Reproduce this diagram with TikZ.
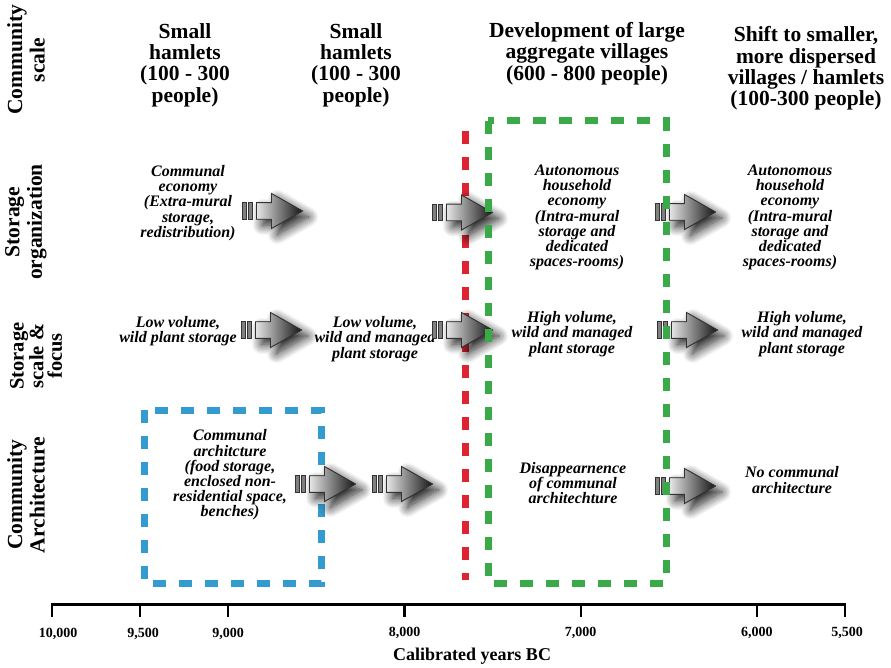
\documentclass[tikz,border=0pt]{standalone}
\usepackage{fontspec}
\setmainfont{Liberation Serif}
\usetikzlibrary{shadows.blur}

\definecolor{boxblue}{RGB}{52,155,208}
\definecolor{boxgreen}{RGB}{58,170,72}
\definecolor{boxred}{RGB}{222,36,48}

\tikzset{
  header/.style={font=\bfseries\fontsize{21.5}{21.3}\selectfont, align=center, inner sep=0pt},
  rowlabel/.style={font=\bfseries\fontsize{21.5}{22.5}\selectfont, align=center, rotate=90, inner sep=0pt},
  note/.style={font=\bfseries\itshape\fontsize{16}{15.2}\selectfont, align=center, inner sep=0pt},
  ticklabel/.style={font=\bfseries\fontsize{14}{14}\selectfont, inner sep=0pt},
  axistitle/.style={font=\bfseries\fontsize{18}{18}\selectfont, inner sep=0pt},
  period/.style={line width=7pt, dash pattern=on 13pt off 13pt},
  arrowedge/.style={draw=black!80, line width=0.9pt, line join=miter},
  flowarrow/.pic={
    \filldraw[arrowedge, left color=black!10, right color=black!92,
      blur shadow={shadow xshift=6pt, shadow yshift=-6pt,
                   shadow blur radius=10pt, shadow blur steps=16,
                   shadow opacity=90}]
      (14.5,-8.3) -- (29.5,-8.3) -- (29.5,-17.5) -- (60.5,0)
      -- (29.5,17.5) -- (29.5,8.3) -- (14.5,8.3) -- cycle;
    \filldraw[arrowedge, fill=black!50] (0,-8.3) rectangle (4.5,8.3);
    \filldraw[arrowedge, fill=black!50] (6,-8.3) rectangle (10.5,8.3);
  }
}

\begin{document}
\begin{tikzpicture}[x=1pt, y=-1pt]
\useasboundingbox (0,0) rectangle (891,668);

% row titles
\node[rowlabel] (rScale)   at (26,60)  {Community\\scale};
\node[rowlabel] (rOrg)     at (26,222) {Storage\\organization};
\node[rowlabel, font=\bfseries\fontsize{20.5}{18.5}\selectfont] (rFocus) at (36,356) {Storage\\scale \&\\focus};
\node[rowlabel] (rArch)    at (26,495) {Community\\Architecture};

% column headers
\node[header] (hA) at (185,65)   {Small\\hamlets\\(100 - 300\\people)};
\node[header] (hB) at (356,65)   {Small\\hamlets\\(100 - 300\\people)};
\node[header] (hC) at (587,53.5) {Development of large\\aggregate villages\\(600 - 800 people)};
\node[header] (hD) at (806,68.5) {Shift to smaller,\\more dispersed\\villages / hamlets\\(100-300 people)};

% periods marked with dashed outlines
\draw[period, boxblue] (144,410) rectangle (321,583);
\draw[period, boxred] (465,131) -- (465,580);

% storage organization
\node[note] (oA) at (188,203)   {Communal\\economy\\(Extra-mural\\storage,\\redistribution)};
\node[note] (oC) at (577,217.5) {Autonomous\\household\\economy\\(Intra-mural\\storage and\\dedicated\\spaces-rooms)};
\node[note] (oD) at (790,217.5) {Autonomous\\household\\economy\\(Intra-mural\\storage and\\dedicated\\spaces-rooms)};

% storage scale and focus
\node[note] (fA) at (178,331) {Low volume,\\wild plant storage};
\node[note] (fB) at (375,339) {Low volume,\\wild and managed\\plant storage};
\node[note] (fC) at (572,334) {High volume,\\wild and managed\\plant storage};
\node[note] (fD) at (802,334) {High volume,\\wild and managed\\plant storage};

% community architecture
\node[note] (aA) at (230,475) {Communal\\architcture\\(food storage,\\enclosed non-\\residential space,\\benches)};
\node[note] (aC) at (573,483) {Disappearnence\\of communal\\architechture};
\node[note] (aD) at (792,480) {No communal\\architecture};

% transition arrows
\pic at (242,211)   {flowarrow};
\pic at (432,212.5) {flowarrow};
\pic at (655,212)   {flowarrow};
\pic at (241,330)   {flowarrow};
\pic at (432,330)   {flowarrow};
\pic at (657,330)   {flowarrow};
\pic at (295,484)   {flowarrow};
\pic at (372,484)   {flowarrow};
\pic at (655,486)   {flowarrow};

\draw[period, boxgreen] (488,121) rectangle (666,583);

% time axis, 176.2pt per thousand years
\coordinate (t10000) at (52,604);
\coordinate (t9500)  at (140.1,604);
\coordinate (t9000)  at (228.2,604);
\coordinate (t8000)  at (404.5,604);
\coordinate (t7000)  at (580.7,604);
\coordinate (t6000)  at (756.9,604);
\coordinate (t5500)  at (845,604);
\draw[line width=3pt] ([xshift=-1.2pt]t10000) -- ([xshift=1.2pt]t5500);
\foreach \t in {10000,9500,9000,8000,7000,6000,5500}
  \draw[line width=2.4pt] (t\t) -- ++(0,13);
\node[ticklabel] (l10000) at ([shift={(6,30)}]t10000) {10,000};
\node[ticklabel] (l9500)  at ([shift={(3,30)}]t9500)  {9,500};
\node[ticklabel] (l9000)  at ([shift={(0,30)}]t9000)  {9,000};
\node[ticklabel] (l8000)  at ([shift={(0,29)}]t8000)  {8,000};
\node[ticklabel] (l7000)  at ([shift={(0,29)}]t7000)  {7,000};
\node[ticklabel] (l6000)  at ([shift={(0,29)}]t6000)  {6,000};
\node[ticklabel] (l5500)  at ([shift={(2,29)}]t5500)  {5,500};
\node[axistitle] (axisTitle) at (472,656) {Calibrated years BC};
\end{tikzpicture}
\end{document}
